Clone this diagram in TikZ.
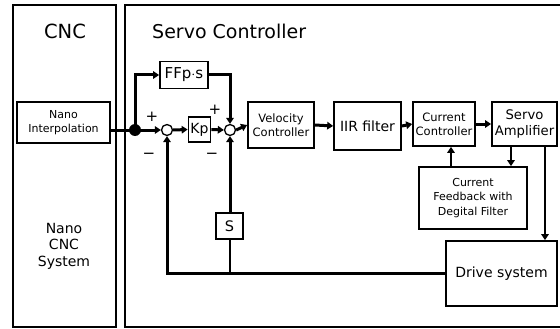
\documentclass[tikz,border=0pt]{standalone}
\usepackage{fontspec}
\setmainfont{DejaVu Sans}
\usetikzlibrary{arrows.meta}
\begin{document}
\begin{tikzpicture}[x=1pt,y=-1pt,
  blk/.style={draw,line width=1.7pt,inner sep=0pt,align=center,fill=white},
  outer/.style={draw,line width=1.4pt,inner sep=0pt},
  sumc/.style={draw,circle,line width=1.3pt,minimum size=11pt,inner sep=0pt,fill=white},
  thick line/.style={line width=3pt},
  arr/.style={line width=3pt,-{Triangle[length=6pt,width=7.5pt]}},
  sarr/.style={line width=1.8pt,-{Triangle[length=6pt,width=7.5pt]}},
  sgn/.style={inner sep=0pt,font=\fontsize{15}{15}\selectfont}]
\useasboundingbox (0,0) rectangle (560,329);
% outer frames
\node[outer,minimum width=103pt,minimum height=322pt] (cncbox) at (64.5,166) {};
\draw[line width=1.4pt] (575,5) -- (125,5) -- (125,327) -- (575,327);
\coordinate (servobox) at (125,5);
\node[inner sep=0pt,font=\fontsize{19.5}{19.5}\selectfont] (cnctitle) at (65,31) {CNC};
\node[inner sep=0pt,anchor=west,font=\fontsize{19}{19}\selectfont] (servotitle) at (152,31) {Servo Controller};
% CNC contents
\node[blk,minimum width=93pt,minimum height=41pt,font=\fontsize{11}{13.5}\selectfont] (nano) at (63.5,122.5) {Nano\\Interpolation};
\node[inner sep=0pt,align=center,font=\fontsize{14}{16.5}\selectfont] (cncsys) at (64,246) {Nano\\CNC\\System};
% servo contents
\node[circle,fill=black,minimum size=12pt,inner sep=0pt] (dot) at (135,130) {};
\node[blk,minimum width=48pt,minimum height=27pt,font=\fontsize{15}{15}\selectfont] (ff) at (184,75) {FFp$\cdot$s};
\node[sumc] (sum1) at (167,130) {};
\node[blk,minimum width=22pt,minimum height=25pt,font=\fontsize{14}{15}\selectfont] (kp) at (199.5,129.5) {Kp};
\node[sumc] (sum2) at (230,130) {};
\node[blk,minimum width=66pt,minimum height=46pt,font=\fontsize{11.5}{14}\selectfont] (vel) at (281,125) {Velocity\\Controller};
\node[blk,minimum width=67pt,minimum height=48pt,font=\fontsize{14}{16}\selectfont] (iir) at (367.5,126) {IIR filter};
\node[blk,minimum width=62pt,minimum height=44pt,font=\fontsize{11.5}{14}\selectfont] (cc) at (444,124) {Current\\Controller};
\node[blk,minimum width=65pt,minimum height=44pt,font=\fontsize{13.2}{16}\selectfont] (sa) at (524.5,124) {Servo\\Amplifier};
\node[blk,minimum width=108pt,minimum height=62pt,font=\fontsize{11}{14.5}\selectfont] (cf) at (473,198) {Current\\Feedback with\\Degital Filter};
\node[blk,minimum width=111pt,minimum height=65pt,font=\fontsize{14}{16}\selectfont] (drive) at (501.5,273.5) {Drive system};
\node[blk,minimum width=27pt,minimum height=26pt,font=\fontsize{14.5}{15}\selectfont] (s) at (229.5,226) {S};
% signs
\node[sgn] (p1) at (152,117) {+};
\node[sgn] (m1) at (149,156) {\textminus};
\node[sgn] (p2) at (215,110) {+};
\node[sgn] (m2) at (212,156) {\textminus};
% connectors
\draw[thick line] (nano.east |- dot.center) -- (dot.center);
\draw[arr] (dot.center) -- (sum1.west);
\draw[arr] (dot.center) |- (ff.west);
\draw[arr] (ff.east) -| (sum2.north);
\draw[arr] (sum1.east) -- (kp.west);
\draw[arr] (kp.east) -- (sum2.west);
\draw[arr] (sum2.east) -- (vel.west);
\draw[arr] (vel.east) -- (iir.west);
\draw[arr] (iir.east) -- (cc.west);
\draw[arr] (cc.east) -- (sa.west);
\draw[sarr] (sa.south -| 511,0) -- (cf.north -| 511,0);
\draw[sarr] (cf.north -| 451,0) -- (cc.south -| 451,0);
\draw[sarr] (sa.south -| 545,0) -- (drive.north -| 545,0);
\coordinate (fbl) at (167,273.5);
\coordinate (fbs) at (230,273.5);
\draw[thick line,-{Triangle[length=6pt,width=7.5pt]}] (drive.west) -- (fbl) -- (sum1.south);
\draw[line width=1.3pt] (fbs) -- (s.south -| fbs);
\draw[arr] (s.north -| sum2) -- (sum2.south);
\end{tikzpicture}
\end{document}
